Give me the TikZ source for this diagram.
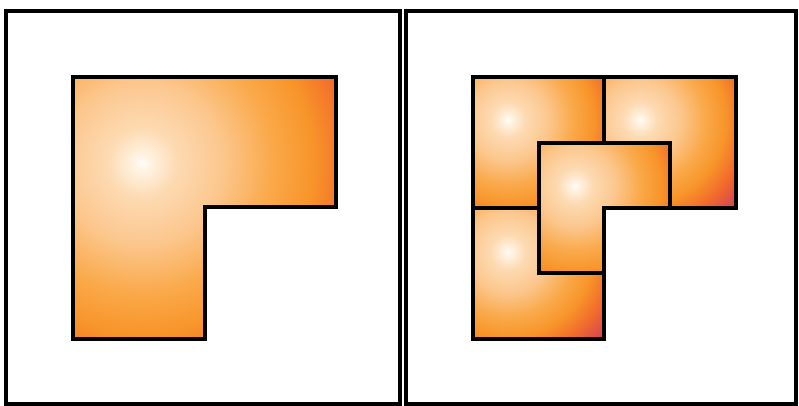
\documentclass[tikz,border=0pt]{standalone}
\usepackage{tikz}
\definecolor{tileA}{HTML}{FFFCF7}
\definecolor{tileB}{HTML}{FFF1DF}
\definecolor{tileC}{HTML}{FDDAB2}
\definecolor{tileD}{HTML}{FCC78E}
\definecolor{tileE}{HTML}{FAA94A}
\definecolor{tileF}{HTML}{F8952A}
\definecolor{tileG}{HTML}{F26B2B}
\definecolor{tileH}{HTML}{CF405A}
\pgfdeclareradialshading{tileglow}{\pgfpoint{0bp}{0bp}}{%
  color(0bp)=(tileA); color(0.95bp)=(tileB); color(3.3bp)=(tileC);
  color(7.55bp)=(tileD); color(12.25bp)=(tileE); color(16.05bp)=(tileF);
  color(19.8bp)=(tileG); color(24.35bp)=(tileH); color(50bp)=(tileH)}
\tikzset{
  tile/.style={draw=black,line width=2pt},
  panel/.style={draw=black,line width=1.8pt}
}
% #1 outline, #2 #3 bright spot, #4 radius of the glow
\newcommand{\glowtile}[4]{%
  \begin{scope}
    \clip #1;
    \fill[shading=tileglow] (#2-#4,#3-#4) rectangle (#2+#4,#3+#4);
  \end{scope}
  \draw[tile] #1;}
\begin{document}
\begin{tikzpicture}[x=0.5pt,y=-0.5pt]
\useasboundingbox (0,0) rectangle (799,406);
% the two frames
\draw[panel] (6,11) rectangle (400,404);
\draw[panel] (406,11) rectangle (796,404);
% left: the whole L
\glowtile{(73,77) -- (336,77) -- (336,207) -- (205,207) -- (205,339) -- (73,339) -- cycle}{142}{163}{265}
% right: four small copies
\glowtile{(473,77) -- (604,77) -- (604,143) -- (539,143) -- (539,208) -- (473,208) -- cycle}{508}{120}{132.5}
\glowtile{(604,77) -- (736,77) -- (736,208) -- (670,208) -- (670,143) -- (604,143) -- cycle}{640}{120}{132.5}
\glowtile{(473,208) -- (539,208) -- (539,273) -- (604,273) -- (604,339) -- (473,339) -- cycle}{508}{252}{132.5}
\glowtile{(539,143) -- (670,143) -- (670,208) -- (604,208) -- (604,273) -- (539,273) -- cycle}{575}{186}{132.5}
\end{tikzpicture}
\end{document}
